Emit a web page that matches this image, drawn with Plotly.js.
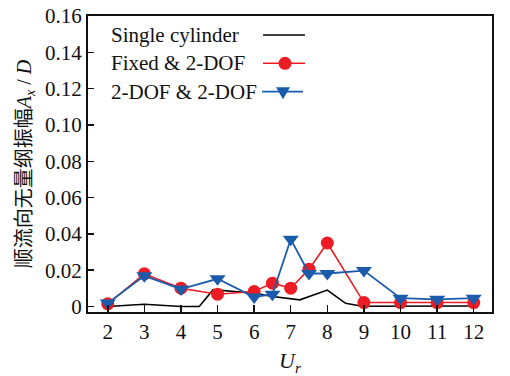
<!DOCTYPE html>
<html>
<head>
<meta charset="utf-8">
<script src="https://cdn.plot.ly/plotly-3.0.1.min.js"></script>
<style>html,body{margin:0;padding:0;background:#fff;}#chart{width:510px;height:376px;}</style>
</head>
<body>
<div id="chart"></div>
<script>
// Data
const urPts = [2, 3, 4, 5, 6, 6.5, 7, 7.5, 8, 9, 10, 11, 12];
const fixed2dof = [0.0015, 0.018, 0.0101, 0.0068, 0.0083, 0.0129, 0.0101, 0.0206, 0.0350, 0.0022, 0.0022, 0.0022, 0.0022];
const dof2dof = [0.0019, 0.0169, 0.0096, 0.0153, 0.0052, 0.0068, 0.0371, 0.0182, 0.0182, 0.0198, 0.0046, 0.0040, 0.0046];
const urSingle = [2, 3, 4, 4.5, 4.88, 6, 6.5, 7.25, 8, 8.5, 8.95, 10, 11, 12];
const single = [0.0, 0.0013, 0.0, 0.0, 0.0093, 0.0073, 0.0055, 0.0037, 0.0091, 0.0018, 0.0002, 0.0003, 0.0003, 0.0003];
const seriesNames = ['Single cylinder', 'Fixed &amp; 2-DOF', '2-DOF &amp; 2-DOF'];
const yTickVals = [0, 0.02, 0.04, 0.06, 0.08, 0.10, 0.12, 0.14, 0.16];
const yTickText = ['0', '0.02', '0.04', '0.06', '0.08', '0.10', '0.12', '0.14', '0.16'];
const xTickVals = [2, 3, 4, 5, 6, 7, 8, 9, 10, 11, 12];

const RED = '#ec1c24', BLUE = '#1b5bab', BLACK = '#000000';
const serif = 'Liberation Serif, Noto Sans CJK SC, serif';

const traces = [
  {x: urSingle, y: single, mode: 'lines', line: {color: BLACK, width: 1.6}, name: seriesNames[0], showlegend: false},
  {x: urPts, y: fixed2dof, mode: 'lines+markers', line: {color: RED, width: 1.6},
   marker: {symbol: 'circle', size: 13, color: RED}, name: seriesNames[1], showlegend: false},
  {x: urPts, y: dof2dof, mode: 'lines+markers', line: {color: BLUE, width: 1.8},
   marker: {symbol: 'triangle-down', size: 14, color: BLUE}, name: seriesNames[2], showlegend: false}
];

// Manual legend (symbol to the right of text, as in reference)
const rowsY = [0.9358, 0.8402, 0.7443];
const colors = [BLACK, RED, BLUE];
const annotations = seriesNames.map((n, i) => ({
  xref: 'paper', yref: 'paper', x: 0.052, y: rowsY[i], xanchor: 'left', yanchor: 'middle',
  text: n, showarrow: false, font: {family: serif, size: 21, color: '#111'}
}));
const shapes = [];
[[0.4332, 0.5371], [0.4332, 0.5371], [0.4307, 0.5322]].forEach((r, i) => {
  shapes.push({type: 'line', xref: 'paper', yref: 'paper', x0: r[0], x1: r[1], y0: rowsY[i], y1: rowsY[i],
    line: {color: colors[i], width: i === 2 ? 1.8 : 1.6}});
});
shapes.push({type: 'circle', xref: 'paper', yref: 'paper', xsizemode: 'pixel', ysizemode: 'pixel',
  xanchor: 0.4876, yanchor: rowsY[1], x0: -6.5, x1: 6.5, y0: -6.5, y1: 6.5,
  fillcolor: RED, line: {color: RED, width: 0}});
shapes.push({type: 'path', xref: 'paper', yref: 'paper', xsizemode: 'pixel', ysizemode: 'pixel',
  xanchor: 0.4827, yanchor: rowsY[2], path: 'M-7,4.5L7,4.5L0,-7.5Z',
  fillcolor: BLUE, line: {color: BLUE, width: 0}});

const layout = {
  width: 510, height: 376,
  margin: {l: 88, r: 18, t: 16, b: 64},
  paper_bgcolor: '#fff', plot_bgcolor: '#fff',
  showlegend: false,
  font: {family: serif, size: 21, color: '#111'},
  xaxis: {
    range: [1.46, 12.5], tickvals: xTickVals, ticks: 'inside', ticklen: 7, tickwidth: 1.5, tickcolor: '#111',
    showline: true, linecolor: '#111', linewidth: 2, mirror: true, showgrid: false, zeroline: false,
    tickfont: {family: serif, size: 21, color: '#111'},
    title: {text: '<i>U<sub>r</sub></i>', font: {family: serif, size: 22, color: '#111'}, standoff: 10}
  },
  yaxis: {
    range: [-0.003, 0.16], tickvals: yTickVals, ticktext: yTickText, ticks: 'inside', ticklen: 6, tickwidth: 1.5, tickcolor: '#111',
    showline: true, linecolor: '#111', linewidth: 2, mirror: true, showgrid: false, zeroline: false,
    tickfont: {family: serif, size: 21, color: '#111'},
    title: {text: '顺流向无量纲振幅<i>A<sub>x</sub></i> / <i>D</i>', font: {family: serif, size: 20, color: '#111'}, standoff: 8}
  },
  annotations: annotations,
  shapes: shapes
};

Plotly.newPlot('chart', traces, layout, {staticPlot: true, displayModeBar: false});
</script>
</body>
</html>
